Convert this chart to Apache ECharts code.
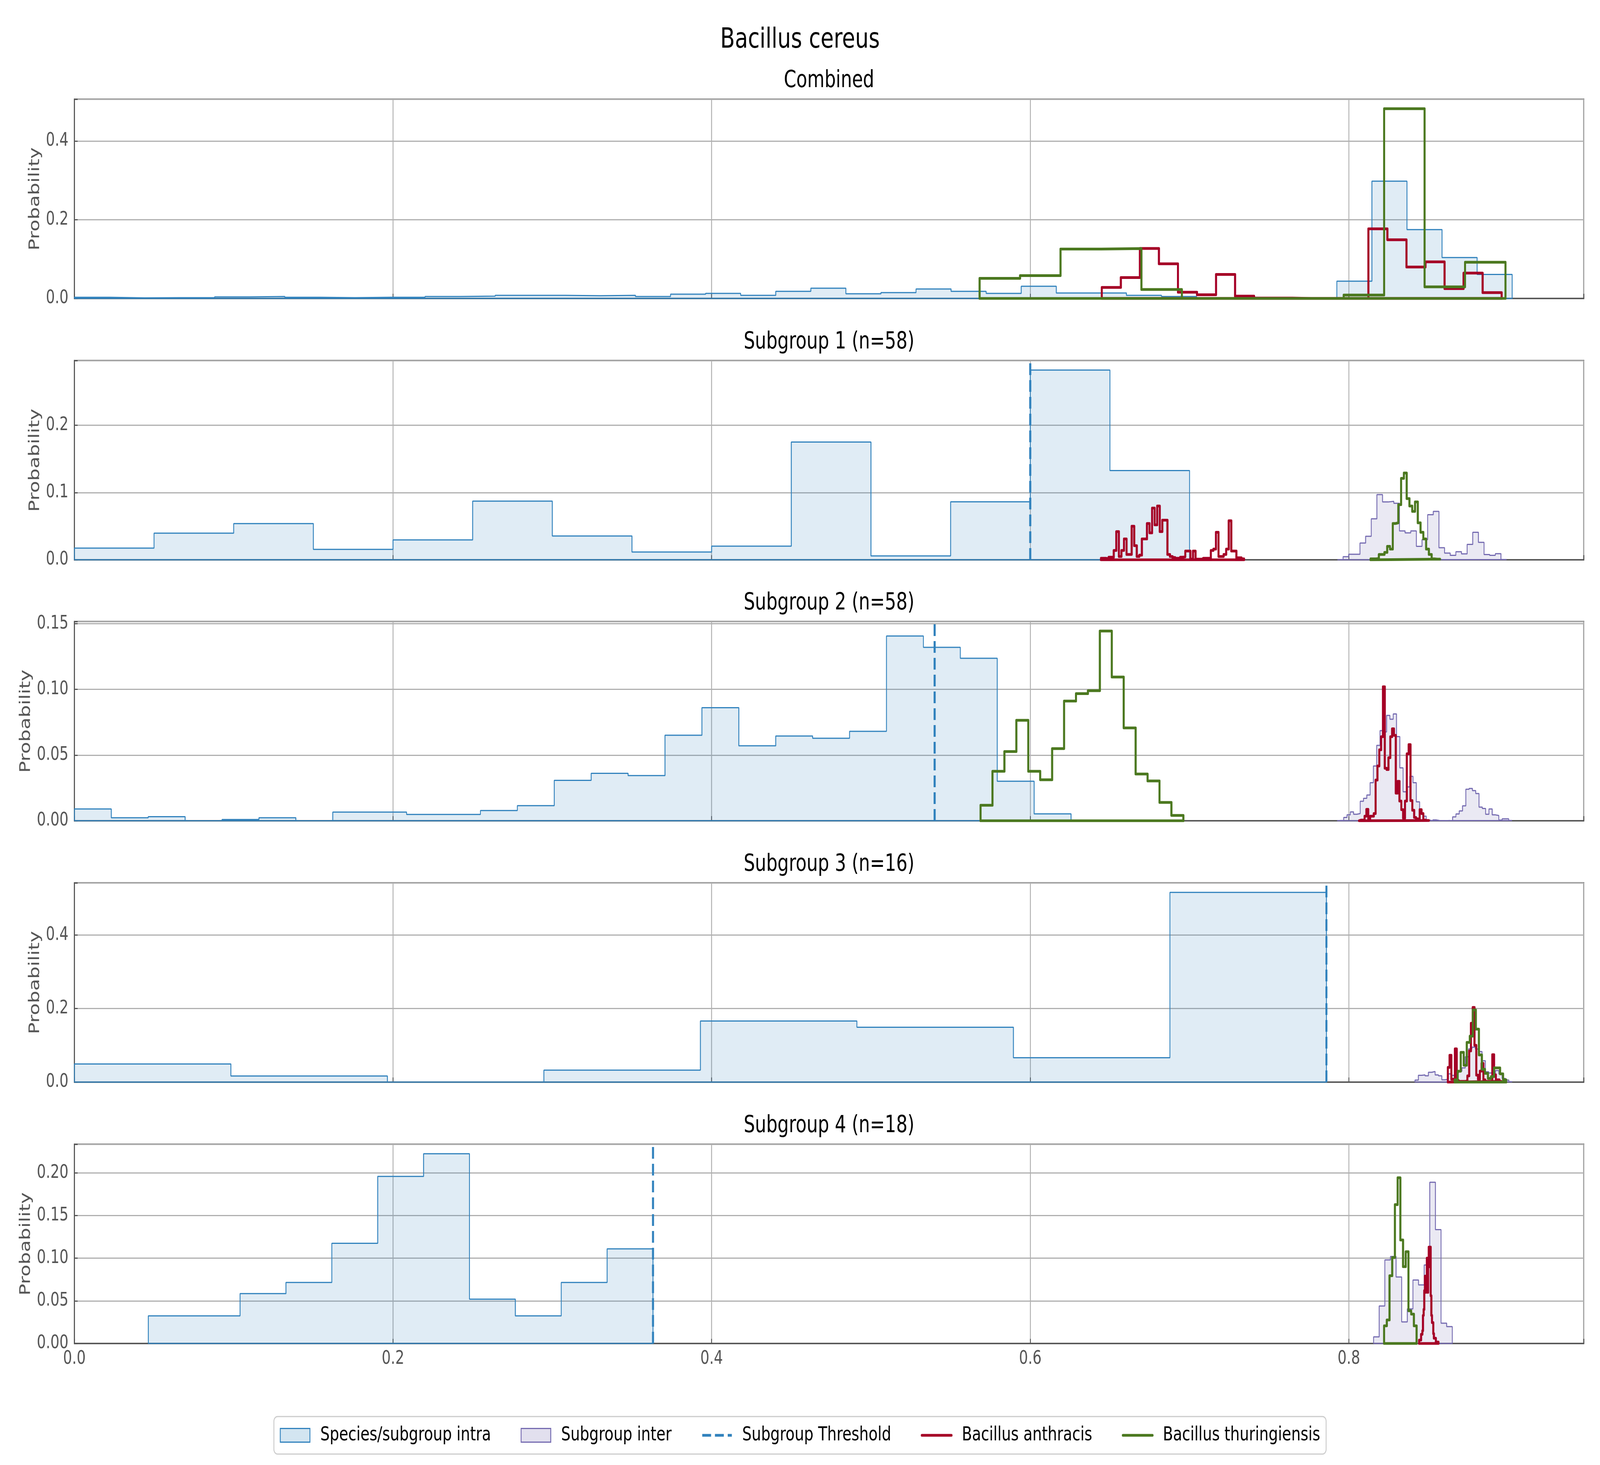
<!DOCTYPE html>
<html>
<head>
<meta charset="UTF-8">
<title>Bacillus cereus</title>
<script src="https://cdn.jsdelivr.net/npm/echarts@6/dist/echarts.min.js"></script>
<style>
html,body{margin:0;padding:0;background:#fff;overflow:hidden;}
#wrap{position:absolute;left:0;top:0;width:5400px;height:3750px;transform-origin:0 0;}
</style>
</head>
<body>
<div id="wrap"><div id="main" style="width:5400px;height:3750px;"></div></div>
<script type="text/javascript">
// ---- data: bin heights, plus [first edge, last edge] of equal-width bins ----
var panelTitles = ['Combined', 'Subgroup 1 (n=58)', 'Subgroup 2 (n=58)', 'Subgroup 3 (n=16)', 'Subgroup 4 (n=18)'];
var seriesNames = ['Species/subgroup intra', 'Subgroup inter', 'Subgroup Threshold', 'Bacillus anthracis', 'Bacillus thuringiensis'];
var xTickStep = 0.2;
var yTickSteps = [0.2, 0.1, 0.05, 0.2, 0.05];
var yTickDecimals = [1, 1, 2, 1, 2];

// Combined
var combIntra = [0.003, 0.0015, 0.002, 0.002, 0.004, 0.005, 0.003, 0.002, 0.003, 0.003, 0.005, 0.006, 0.008, 0.008, 0.007, 0.008, 0.005, 0.011, 0.013, 0.008, 0.018, 0.026, 0.012, 0.015, 0.024, 0.018, 0.013, 0.031, 0.014, 0.014, 0.008, 0.005, 0.001, 0, 0, 0, 0.044, 0.298, 0.175, 0.104, 0.061];
var combIntraRange = [0, 0.9025];
var combAnthracis = [0.028, 0.053, 0.127, 0.088, 0.016, 0.0095, 0.061, 0.006, 0.001, 0.001, 0, 0, 0, 0, 0.177, 0.149, 0.080, 0.093, 0.025, 0.0645, 0.015];
var combAnthracisRange = [0.6449, 0.8959];
var combThuring = [0.051, 0.058, 0.1256, 0.1268, 0.0228, 0, 0, 0, 0, 0.0087, 0.482, 0.0296, 0.092];
var combThuringRange = [0.5682, 0.8983];

// Subgroup 1
var sub1Intra = [0.0174, 0.0396, 0.0539, 0.0156, 0.0296, 0.0873, 0.0354, 0.0116, 0.0203, 0.175, 0.0058, 0.0862, 0.282, 0.1327];
var sub1IntraRange = [0, 0.70];
var sub1Inter = [0.0005, 0.0047, 0.0083, 0.0083, 0.025, 0.035, 0.061, 0.097, 0.086, 0.087, 0.084, 0.043, 0.040, 0.043, 0.020, 0.030, 0.067, 0.072, 0.018, 0.010, 0.0067, 0.012, 0.0088, 0.023, 0.041, 0.026, 0.0079, 0.0067, 0.0092, 0.0005];
var sub1InterRange = [0.7928, 0.8990];
var sub1Anthracis = [0.0023, 0.0023, 0.0014, 0.0039, 0.0039, 0.014, 0.042, 0.005, 0.014, 0.031, 0.008, 0.008, 0.050, 0.021, 0.005, 0.007, 0.031, 0.031, 0.054, 0.040, 0.077, 0.052, 0.080, 0.042, 0.059, 0.059, 0.008, 0.005, 0.0035, 0.0023, 0.0023, 0.0039, 0.0045, 0.013, 0.013, 0.001, 0.013, 0.001, 0.001, 0.001, 0.0023, 0.0023, 0.0023, 0.014, 0.016, 0.041, 0.005, 0.005, 0.008, 0.016, 0.058, 0.013, 0.013, 0.003, 0.003, 0.0014];
var sub1AnthracisRange = [0.6444, 0.7342];
var sub1Thuring = [0.0014, 0.0014, 0.002, 0.008, 0.008, 0.011, 0.020, 0.016, 0.054, 0.055, 0.082, 0.121, 0.129, 0.091, 0.080, 0.072, 0.086, 0.055, 0.041, 0.031, 0.016, 0.008, 0.0014, 0.001, 0.001];
var sub1ThuringRange = [0.8136, 0.8572];

// Subgroup 2
var sub2Intra = [0.009, 0.0023, 0.0031, 0, 0.001, 0.0023, 0, 0.0066, 0.0066, 0.0048, 0.0048, 0.0078, 0.0115, 0.0308, 0.0361, 0.0344, 0.0651, 0.0861, 0.0571, 0.0645, 0.0628, 0.0681, 0.1406, 0.132, 0.1237, 0.0301, 0.0053];
var sub2IntraRange = [0, 0.6256];
var sub2Inter = [0.0002, 0.0002, 0.0025, 0.0045, 0.0068, 0.005, 0.0055, 0.0149, 0.0171, 0.0196, 0.029, 0.0417, 0.0574, 0.0686, 0.0676, 0.0802, 0.0773, 0.0813, 0.0641, 0.0403, 0.0221, 0.0258, 0.0338, 0.029, 0.0144, 0.0055, 0.0035, 0.0005, 0, 0.0007, 0.0002, 0, 0, 0.0002, 0, 0.003, 0.0052, 0.0075, 0.0114, 0.024, 0.0246, 0.023, 0.0207, 0.0104, 0.0094, 0.005, 0.009, 0.0045, 0.004, 0.0005, 0.0015, 0.0015, 0.0002];
var sub2InterRange = [0.7926, 0.9024];
var sub2Anthracis = [0.0005, 0.0005, 0.0005, 0.0035, 0.0087, 0.0015, 0.0035, 0.0035, 0.0055, 0.031, 0.0417, 0.054, 0.064, 0.102, 0.040, 0.039, 0.048, 0.064, 0.070, 0.065, 0.021, 0.030, 0.015, 0.0085, 0.002, 0.015, 0.051, 0.058, 0.0154, 0.008, 0.0025, 0.0015, 0.001, 0.0085, 0.0055, 0.0005, 0.0002, 0.0002];
var sub2AnthracisRange = [0.8064, 0.8502];
var sub2Thuring = [0.0118, 0.0377, 0.0527, 0.0765, 0.0377, 0.0312, 0.0549, 0.0911, 0.0968, 0.099, 0.1444, 0.1094, 0.0707, 0.0356, 0.0303, 0.014, 0.0041];
var sub2ThuringRange = [0.5688, 0.6961];

// Subgroup 3
var sub3Intra = [0.0493, 0.0167, 0, 0.0326, 0.166, 0.149, 0.0663, 0.5155];
var sub3IntraRange = [0, 0.7859];
var sub3Inter = [0.0057, 0.0186, 0.0197, 0.0172, 0.0269, 0.029, 0.0197, 0.0172, 0.0064, 0.0082, 0.0226, 0.0183, 0.025, 0.0297, 0.0387, 0.069, 0.0906, 0.095, 0.09, 0.083, 0.058, 0.028, 0.025, 0.0172, 0.0315, 0.0226, 0.01, 0.0057, 0.001];
var sub3InterRange = [0.8415, 0.9025];
var sub3Anthracis = [0.040, 0.073, 0.008, 0.008, 0.0906, 0.0047, 0.002, 0.002, 0.002, 0.002, 0.004, 0.017, 0.085, 0.160, 0.203, 0.100, 0.019, 0.008, 0.030, 0.051, 0.0064, 0.002, 0.002, 0.002, 0.002, 0.0745, 0.020, 0.0064, 0.0064, 0.002];
var sub3AnthracisRange = [0.8621, 0.8956];
var sub3Thuring = [0.0064, 0.0297, 0.081, 0.046, 0.108, 0.125, 0.196, 0.144, 0.074, 0.035, 0.024, 0.010, 0.015, 0.0387, 0.0387, 0.0226, 0.0064];
var sub3ThuringRange = [0.8664, 0.8987];

// Subgroup 4
var sub4Intra = [0.0324, 0.0324, 0.0585, 0.0716, 0.1174, 0.1959, 0.2224, 0.052, 0.0324, 0.0716, 0.1109];
var sub4IntraRange = [0.0464, 0.3632];
var sub4Inter = [0.0078, 0.0439, 0.098, 0.102, 0.078, 0.0253, 0.0405, 0.0744, 0.0687, 0.092, 0.189, 0.1335, 0.0238, 0.0198];
var sub4InterRange = [0.8155, 0.8649];
var sub4Anthracis = [0.004, 0.004, 0.004, 0.0108, 0.0108, 0.015, 0.033, 0.040, 0.062, 0.079, 0.060, 0.079, 0.100, 0.060, 0.100, 0.113, 0.090, 0.113, 0.056, 0.033, 0.0245, 0.0245, 0.0116, 0.0062, 0.0062, 0.0062, 0.0017, 0.0017, 0.0017, 0.0017];
var sub4AnthracisRange = [0.8441, 0.8562];
var sub4Thuring = [0.0207, 0.0276, 0.0794, 0.1007, 0.1628, 0.1942, 0.1213, 0.0901, 0.1076, 0.0383, 0.0344, 0.0207];
var sub4ThuringRange = [0.8221, 0.8425];

var thresholds = [null, 0.60, 0.54, 0.7859, 0.3632];
var xMax = 0.9474;

// ---- layout: drawn on a 5400x3750 canvas, then fitted to the real window ----
var wrap = document.getElementById('wrap');
var fitX = (window.innerWidth || 5400) / 5400, fitY = (window.innerHeight || 3750) / 3750;
wrap.style.transform = 'scale(' + fitX + ',' + fitY + ')';

var FONT = 'DejaVu Sans';
var gridTops = [254, 923, 1591, 2260, 2929];
var gridH = 510, gridL = 251, gridW = 5094;
var BLUE = '#3182bd', PURPLE = '#756bb1', RED = '#a50026', GREEN = '#4b781f';
var BLUE_FILL = 'rgba(49,130,189,0.21)', PURPLE_FILL = 'rgba(117,107,177,0.21)';

var panels = [
    {intra: [combIntra, combIntraRange], anth: [combAnthracis, combAnthracisRange], thur: [combThuring, combThuringRange]},
    {intra: [sub1Intra, sub1IntraRange], inter: [sub1Inter, sub1InterRange], anth: [sub1Anthracis, sub1AnthracisRange], thur: [sub1Thuring, sub1ThuringRange]},
    {intra: [sub2Intra, sub2IntraRange], inter: [sub2Inter, sub2InterRange], anth: [sub2Anthracis, sub2AnthracisRange], thur: [sub2Thuring, sub2ThuringRange]},
    {intra: [sub3Intra, sub3IntraRange], inter: [sub3Inter, sub3InterRange], anth: [sub3Anthracis, sub3AnthracisRange], thur: [sub3Thuring, sub3ThuringRange]},
    {intra: [sub4Intra, sub4IntraRange], inter: [sub4Inter, sub4InterRange], anth: [sub4Anthracis, sub4AnthracisRange], thur: [sub4Thuring, sub4ThuringRange]}
];

// histogram outline in data coordinates (closed along the baseline, like matplotlib's step patches)
function steps(vals, range) {
    var n = vals.length, w = (range[1] - range[0]) / n;
    var pts = [[range[0], 0]];
    for (var i = 0; i < n; i++) {
        var a = range[0] + i * w;
        pts.push([a, vals[i]], [a + w, vals[i]]);
    }
    pts.push([range[1], 0], [range[0], 0]);
    return pts;
}

function tickFmt(step, dec) {
    return function (v) {
        var m = Math.round(v / step);
        if (Math.abs(v - m * step) > 1e-9) return '';
        return v.toFixed(dec);
    };
}

var grids = [], xAxes = [], yAxes = [], series = [], graphics = [];

graphics.push({type: 'text', x: 2700, y: 103, style: {text: 'Bacillus cereus', font: '72px "DejaVu Sans"', fill: '#000', textAlign: 'center', textVerticalAlign: 'middle'}});

panels.forEach(function (p, i) {
    var yMax = 0;
    ['intra', 'inter', 'anth', 'thur'].forEach(function (key) {
        if (p[key]) yMax = Math.max(yMax, Math.max.apply(null, p[key][0]));
    });
    yMax *= 1.05;

    grids.push({left: gridL, top: gridTops[i], width: gridW, height: gridH, show: true, borderColor: '#555555', borderWidth: 3.5, backgroundColor: 'transparent'});
    graphics.push({type: 'text', x: gridL + gridW / 2, y: gridTops[i] - 47, style: {text: panelTitles[i], font: '60px "DejaVu Sans"', fill: '#000', textAlign: 'center', textVerticalAlign: 'middle'}});

    xAxes.push({
        type: 'value', gridIndex: i, min: 0, max: xMax, interval: xTickStep,
        axisLine: {show: true, onZero: false, lineStyle: {color: '#555555', width: 3.5}},
        axisTick: {show: true, inside: true, length: 12, lineStyle: {color: '#555555', width: 3}},
        axisLabel: {show: i === 4, formatter: tickFmt(xTickStep, 1), fontSize: 48, fontFamily: FONT, color: '#555555', margin: 16},
        splitLine: {show: true, lineStyle: {color: '#b0b0b0', width: 3}}
    });
    var dec = yTickDecimals[i];
    yAxes.push({
        type: 'value', gridIndex: i, min: 0, max: yMax, interval: yTickSteps[i],
        name: 'Probability', nameLocation: 'middle', nameRotate: 90, nameGap: dec === 1 ? 107 : 138,
        nameTextStyle: {fontSize: 50, fontFamily: FONT, color: '#555555'},
        axisLine: {show: true, lineStyle: {color: '#555555', width: 3.5}},
        axisTick: {show: true, inside: true, length: 11, lineStyle: {color: '#555555', width: 3}},
        axisLabel: {formatter: tickFmt(yTickSteps[i], dec), fontSize: 48, fontFamily: FONT, color: '#555555', margin: 20},
        splitLine: {show: true, lineStyle: {color: '#b0b0b0', width: 3}}
    });

    var base = {type: 'line', xAxisIndex: i, yAxisIndex: i, symbol: 'none', showSymbol: false, animation: false, silent: true};
    series.push(echarts.util.extend({
        name: seriesNames[0], data: steps(p.intra[0], p.intra[1]),
        lineStyle: {color: BLUE, width: 3}, itemStyle: {color: BLUE},
        areaStyle: {color: BLUE_FILL, origin: 'start'}
    }, base));
    if (p.inter) {
        series.push(echarts.util.extend({
            name: seriesNames[1], data: steps(p.inter[0], p.inter[1]),
            lineStyle: {color: PURPLE, width: 3}, itemStyle: {color: PURPLE},
            areaStyle: {color: PURPLE_FILL, origin: 'start'}
        }, base));
    }
    if (thresholds[i] !== null) {
        series.push(echarts.util.extend({
            name: seriesNames[2], data: [[thresholds[i], 0], [thresholds[i], yMax]],
            lineStyle: {color: BLUE, width: 7, type: [30, 13]}, itemStyle: {color: BLUE}
        }, base));
    }
    series.push(echarts.util.extend({
        name: seriesNames[3], data: steps(p.anth[0], p.anth[1]),
        lineStyle: {color: RED, width: 7, join: 'round', cap: 'round'}, itemStyle: {color: RED}
    }, base));
    series.push(echarts.util.extend({
        name: seriesNames[4], data: steps(p.thur[0], p.thur[1]),
        lineStyle: {color: GREEN, width: 7, join: 'round', cap: 'round'}, itemStyle: {color: GREEN}
    }, base));
});

var hideDot = {color: 'rgba(0,0,0,0)', borderWidth: 0};
var chart = echarts.init(document.getElementById('main'));
chart.setOption({
    backgroundColor: '#ffffff',
    animation: false,
    grid: grids,
    xAxis: xAxes,
    yAxis: yAxes,
    series: series,
    graphic: graphics,
    legend: {
        left: 'center', top: 3626, orient: 'horizontal',
        itemWidth: 100, itemHeight: 35, itemGap: 100,
        padding: [23, 20],
        borderColor: '#cccccc', borderWidth: 3, borderRadius: 12, backgroundColor: '#ffffff',
        lineStyle: {width: 7},
        textStyle: {fontSize: 50, fontFamily: FONT, color: '#000', padding: [0, 0, 0, 30]},
        data: [
            {name: seriesNames[0], icon: 'rect', itemStyle: {color: BLUE_FILL, borderColor: BLUE, borderWidth: 3}},
            {name: seriesNames[1], icon: 'rect', itemStyle: {color: PURPLE_FILL, borderColor: PURPLE, borderWidth: 3}},
            {name: seriesNames[2], itemStyle: hideDot},
            {name: seriesNames[3], itemStyle: hideDot},
            {name: seriesNames[4], itemStyle: hideDot}
        ]
    }
});
</script>
</body>
</html>
